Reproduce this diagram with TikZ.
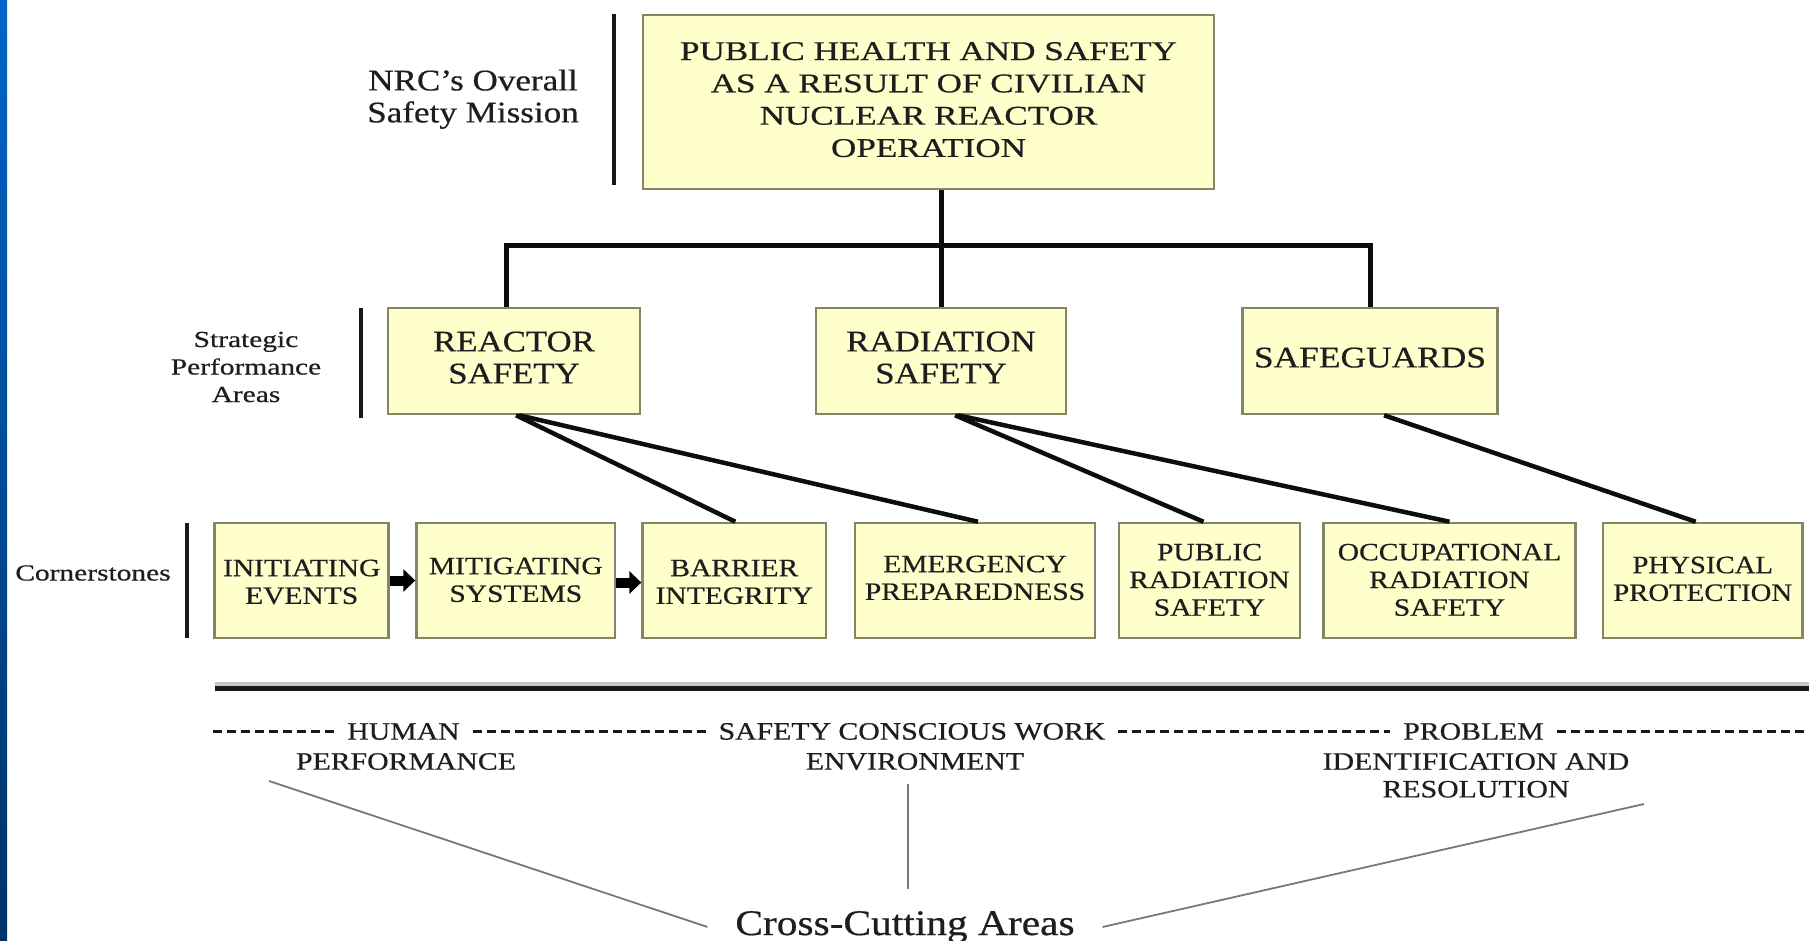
\documentclass[tikz,border=0pt]{standalone}
\usepackage{fontspec}
\setmainfont{Liberation Serif}[FakeBold=0.5,BoldFont=Liberation Serif]
\usetikzlibrary{arrows.meta,calc}
\definecolor{boxfill}{HTML}{FFFFCC}
\definecolor{boxline}{HTML}{85856A}
\definecolor{txt}{HTML}{1E1E1E}
\definecolor{ccgray}{HTML}{7A7A68}
\definecolor{bluetop}{HTML}{0064C8}
\definecolor{bluebot}{HTML}{003366}
\definecolor{shadowgray}{HTML}{C8C8C0}
\newcommand\stx[3][0pt]{\raisebox{#1}[\height][\depth]{\scalebox{#2}[1]{\begin{tabular}{@{}c@{}}#3\end{tabular}}}}
\begin{document}
\begin{tikzpicture}[x=1pt,y=-1pt,
  box/.style={draw=boxline, line width=2.5pt, fill=boxfill, inner sep=0pt, text=txt},
  fbig/.style={font=\fontsize{27}{32.3}\selectfont\bfseries},
  fmid/.style={font=\fontsize{30}{32}\selectfont\bfseries},
  fsmall/.style={font=\fontsize{25}{27.7}\selectfont\bfseries},
  lbl/.style={inner sep=0pt, text=txt},
  sepbar/.style={line width=4pt, draw=black!90},
  conn/.style={line width=5pt, draw=black!95},
  diag/.style={line width=4.5pt, draw=black!95},
  blk/.style={line width=10pt, draw=black, -{Triangle[length=12pt,width=22pt]}},
  dashln/.style={line width=3.5pt, draw=black!90, dash pattern=on 9pt off 5pt},
  ccl/.style={draw=ccgray, line width=1.8pt},
  cw/.style={lbl, fsmall, outer xsep=13pt}
]
\useasboundingbox (0,0) rectangle (1809,941);
\fill[white] (0,0) rectangle (1809,941);
\shade[top color=bluetop, bottom color=bluebot] (0,0) rectangle (7,941);

% top level
\node[lbl, font=\fontsize{30}{32}\selectfont\bfseries] (nrc) at (473,100) {\stx{1.17}{NRC's Overall\\Safety Mission}};
\coordinate (b1t) at (614,14); \coordinate (b1b) at (614,185);
\draw[sepbar] (b1t) -- (b1b);
\node[box, fbig, minimum width=571pt, minimum height=174pt] (top) at (928.5,102)
  {\stx{1.30}{PUBLIC HEALTH AND SAFETY\\AS A RESULT OF CIVILIAN\\NUCLEAR REACTOR\\OPERATION}};

% strategic performance areas
\node[lbl, font=\fontsize{23}{27.5}\selectfont\bfseries] (spa) at (246,369) {\stx{1.28}{Strategic\\Performance\\Areas}};
\coordinate (b2t) at (361,308); \coordinate (b2b) at (361,418);
\draw[sepbar] (b2t) -- (b2b);
\node[box, fmid, minimum width=252pt, minimum height=106pt] (rs) at (514,361) {\stx{1.16}{REACTOR\\SAFETY}};
\node[box, fmid, minimum width=250pt, minimum height=106pt] (rad) at (941,361) {\stx{1.16}{RADIATION\\SAFETY}};
\node[box, fmid, minimum width=255pt, minimum height=106pt] (sg) at (1370,361) {\stx{1.18}{SAFEGUARDS}};

% tree connectors
\coordinate (bar) at (0,246);
\draw[conn] (top.south -| rad.north) -- (rad.north);
\draw[conn] ([xshift=-7.5pt]rs.north) |- (rad.north |- bar) -| (sg.north);

% cornerstones
\node[lbl, font=\fontsize{23}{27.5}\selectfont\bfseries] (cs) at (93,575) {\stx{1.28}{Cornerstones}};
\coordinate (b3t) at (187,523); \coordinate (b3b) at (187,638);
\draw[sepbar] (b3t) -- (b3b);
\node[box, fsmall, minimum width=174pt, minimum height=115pt] (ie) at (301.7,580.5) {\stx[-4pt]{1.18}{INITIATING\\EVENTS}};
\node[box, fsmall, minimum width=198.5pt, minimum height=115pt] (ms) at (515.8,580.5) {\stx[-2pt]{1.18}{MITIGATING\\SYSTEMS}};
\node[box, fsmall, minimum width=183.4pt, minimum height=115pt] (bi) at (734.3,580.5) {\stx[-4pt]{1.18}{BARRIER\\INTEGRITY}};
\node[box, fsmall, minimum width=240pt, minimum height=115pt] (ep) at (975,580.5) {\stx[0pt]{1.18}{EMERGENCY\\PREPAREDNESS}};
\node[box, fsmall, minimum width=181pt, minimum height=115pt] (prs) at (1209.5,580.5) {\stx[-2pt]{1.18}{PUBLIC\\RADIATION\\SAFETY}};
\node[box, fsmall, minimum width=252pt, minimum height=115pt] (ors) at (1449.5,580.5) {\stx[-2pt]{1.18}{OCCUPATIONAL\\RADIATION\\SAFETY}};
\node[box, fsmall, minimum width=199.5pt, minimum height=115pt] (pp) at (1702.7,580.5) {\stx[-1pt]{1.15}{PHYSICAL\\PROTECTION}};

\draw[blk] (ie.east) -- (ms.west);
\draw[blk] ([yshift=-2pt]ms.east) -- ([yshift=-2pt]bi.west);

% diagonal connectors
\draw[diag] ([xshift=2pt]rs.south) -- ([xshift=1pt]bi.north);
\draw[diag] ([xshift=5pt]rs.south) -- ([xshift=3pt]ep.north);
\draw[diag] ([xshift=14pt]rad.south) -- ([xshift=-6pt]prs.north);
\draw[diag] ([xshift=17pt]rad.south) -- (ors.north);
\draw[diag] ([xshift=14pt]sg.south) -- ([xshift=-7pt]pp.north);

% separator line
\coordinate (sl) at (214.6,684); \coordinate (sr) at (1809,684);
\draw[draw=shadowgray, line width=4pt] (sl) -- (sr);
\coordinate (tl) at (214.6,688); \coordinate (tr) at (1809,688);
\draw[line width=5pt, draw=black!90] (tl) -- (tr);

% cross-cutting areas
\node[cw] (hum) at (403.5,731.5) {\scalebox{1.19}[1]{HUMAN}};
\node[cw] (scw) at (912,731.5) {\scalebox{1.19}[1]{SAFETY CONSCIOUS WORK}};
\node[cw] (prob) at (1473.5,731.5) {\scalebox{1.19}[1]{PROBLEM}};
\node[lbl, fsmall] (perf) at (406,761.5) {\scalebox{1.19}[1]{PERFORMANCE}};
\node[lbl, fsmall] (env) at (915,761.5) {\scalebox{1.19}[1]{ENVIRONMENT}};
\node[lbl, fsmall] (ida) at (1476,778) {\stx{1.19}{IDENTIFICATION AND\\RESOLUTION}};
\coordinate (dl) at (213,731.5); \coordinate (dr) at (1809,731.5);
\draw[dashln] (dl) -- (hum.west);
\draw[dashln] (hum.east) -- (scw.west);
\draw[dashln] (scw.east) -- (prob.west);
\draw[dashln] (prob.east) -- (dr);

\node[lbl, font=\fontsize{36}{40}\selectfont, anchor=base, outer xsep=28pt, outer ysep=22pt] (cca) at (905,935) {\scalebox{1.15}[1]{Cross-Cutting Areas}};
\coordinate (c1) at (269,781);
\coordinate (c2) at (908,784);
\coordinate (c3) at (1644,804);
\draw[ccl] (c1) -- (cca.west);
\draw[ccl] (c2) -- (c2 |- cca.north);
\draw[ccl] (c3) -- (cca.east);
\end{tikzpicture}
\end{document}
